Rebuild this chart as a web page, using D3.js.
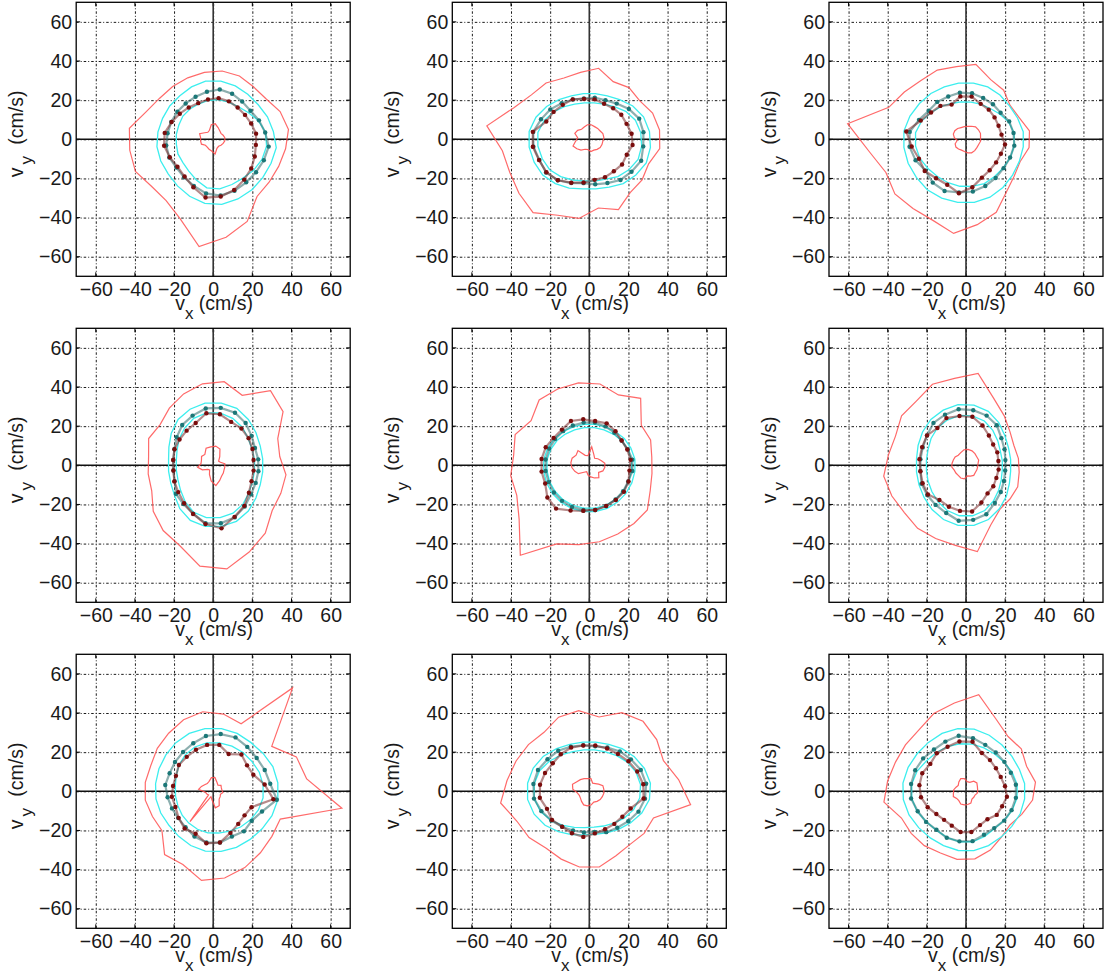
<!DOCTYPE html>
<html>
<head>
<meta charset="utf-8">
<script src="https://cdn.jsdelivr.net/npm/d3@7"></script>
<style>
body { margin: 0; background: #fff; }
svg { display: block; }
text { font-family: "Liberation Sans", Arial, Helvetica, sans-serif; fill: #1a1a1a; }
.tick text { font-size: 19.5px; }
.lab { font-size: 19.5px; white-space: pre; }
</style>
</head>
<body>
<div id="chartDiv"></div>
<script>
// each curve is sampled at 24 directions, 7.5 deg + k*15 deg, radii in cm/s
const ANGLES = d3.range(24).map(k => 7.5 + 15 * k);
const TICKS = [-60, -40, -20, 0, 20, 40, 60];

// panels in reading order (row by row)
const redOuter = [
  [38.8,37,34,33.8,35,35.2,34.5,34,34,34.5,37,43.2,43,43,39.6,39.5,44,55.3,50.5,45.4,36.8,36,36.2,37.3],
  [36.2,35,32.4,33.3,31.9,36.6,34.5,33.9,36.3,37.3,41.9,52.8,44.8,44,45.3,47.2,42,40.8,35.4,38.9,34.3,34,32.8,36.3],
  [32.7,29.3,28.4,31.6,33,38.6,37.5,38.3,37.8,39.7,42.7,61,49.7,44.3,45.8,44.5,44.7,48.5,44,40.4,33.9,31,29.9,32.5],
  [34.3,35.7,45,48.1,38.7,43.1,42,39.5,36.8,34.2,35.7,33.3,33.5,34,38.6,42,44.5,52,53.4,48,43.7,38,37.4,37.5],
  [32.2,33.9,33.5,43.1,38.9,41.9,42.5,42.2,42.1,37.5,41,39,40.5,40.1,45.2,57.9,43.5,40.9,39.4,38,37.5,37.4,33.7,32.3],
  [27,26.5,28.3,32,37,47.4,44.8,44.8,41.5,41.5,39,40,42.4,41,39.7,40.6,40.5,41.3,44.5,33,28.4,28.3,28.6,27.4],
  [48.2,46,37.7,66.6,37.3,39.8,41,39.6,37.4,36,34.5,35,35,33.6,33,40.8,40.5,45.9,44.7,42.2,39.6,37.8,37.1,66.3],
  [46,41,43.4,45.1,43.5,38.3,41.6,41,38,39.2,40.5,42.4,45.7,40,38.8,36.5,37.5,39,39,35.6,34.2,35.3,35.5,52.2],
  [35.8,33.5,35.6,35.3,40,49.8,45.5,43,39.5,39,39,40.4,42.3,35.7,35.3,35,34.1,35.1,34.8,32.5,29.6,28.3,30.8,34.3]
];

const cyanOuter = [
  [31,30,29,29,29.5,30,30,29,28,28,28,28.5,29,29,29,30,31.5,33,33.5,33,32.5,32,32,32.5],
  [31,30,28,25.5,24,23.5,23.5,24,25.5,27.5,29.5,31,31,30.5,30,28.5,27,25.5,25.5,26.5,28.5,30,31.5,31.5],
  [29.5,28.5,28,28.5,29,29,29,29,29.5,30,31,32,32,32,32,32.5,32.5,32.5,32.5,32,31,30,29.5,29.5],
  [25.5,26,27.5,29.5,31.5,32,32,31,29.5,27,24.5,23,23,23.5,25,28,30.5,31.5,31.5,31,29.5,27.5,26,25.5],
  [23.5,23,22.5,21.8,21.3,21.1,21.1,21.3,21.8,22.5,23,23.5,23.5,23.6,23.7,23.8,23.8,23.8,23.8,23.8,23.7,23.6,23.5,23.5],
  [23,23.5,25,27.5,29.8,31,31.3,30.5,29.5,28,26.5,25.5,25.5,26,27,28.5,30,31,31,30,28,26,24,23],
  [33.3,33,32,31.5,32,32.3,32.3,32,31.3,30.5,30,29.7,29.5,29,28.5,29,30,30.8,31,31,31,31.5,32.5,33.3],
  [31.5,30.5,29,27.5,26,25.3,25.3,26,27.5,29.5,31,31.8,31.8,30.5,28.5,26,24,22.5,22.2,23,24.5,26.5,29,31],
  [30.2,29.5,29.5,30,31,32,32.3,32,31.5,31.5,32,32.5,32.3,31.5,30.5,30,30,30.5,30.6,30,29.5,29.5,30,30.2]
];

const cyanInner = [
  [27,25,22.5,21,20.5,20.5,20,19.5,19.5,19.5,19,19,19,19.5,19.5,20.5,22.5,25,25.5,25,25,26,27,27.5],
  [26.5,25.5,23.5,21,19.5,18.8,18.8,19.5,21,23,25,26.5,26.5,26,25.5,24,22.5,21.5,21.5,22,24,25.5,27,27],
  [24.8,23.5,21.5,20,19.5,19.2,19.3,19.8,21,22.5,24.5,26,26,25.5,24.5,24,24,24.2,24.3,24.5,24,24,24.5,24.8],
  [21.3,21.5,22.5,24.5,26,27,27,26,24,22,20,19,19,19.5,21,23.5,26,27,27,26.5,25,23,21.8,21.3],
  [21.8,21.3,20.8,20.1,19.6,19.4,19.4,19.6,20.1,20.8,21.3,21.8,21.8,21.9,22,22.1,22.1,22.1,22.1,22.1,22,21.9,21.8,21.8],
  [18.7,19,20.5,22.5,24.5,25.5,25.7,25,24,22.5,21,20.4,20.4,21,22,23.5,25,26,26,25,23,21,19.5,18.7],
  [25.7,25.5,25,25,25,25,25,24.5,23.5,22,20.5,19.5,19.4,19.5,20,20.5,21,21.4,21.5,22,23,24,25,25.7],
  [26.4,25.8,24.5,23,21.8,21.3,21.3,22,23.5,25.5,27.5,28.4,28.4,27,24.5,22,20,18.7,18.5,19.2,20.5,22.5,24.5,26],
  [26.4,25.5,24.5,24,24,24.3,24.5,24.7,25,25.5,27,28,28,27,25.5,25,25.5,26,26,25,24,24.5,25.5,26.3]
];

const tealDots = [
  [26.8,25.3,24,24.3,25.2,25.7,24.5,23.5,23.1,23.1,23.2,23.5,24.2,24.3,23.7,24.5,25.8,27.9,29,28.5,27.7,27.6,28,28.6],
  [27.9,27.6,25.5,23,21.6,21.5,21.1,22,23.2,25.1,26.7,28.9,28.8,27.6,27.9,26.4,24.2,22.6,23.2,24.2,26.2,27.2,28.7,27.8],
  [24.5,23.9,22.3,22.6,22.9,23.7,24,23.7,24.1,24,26,29,29.1,27.9,26.2,27.9,28.6,27.4,26.9,25.8,24.9,24.2,24.4,24.9],
  [23.2,23.1,24.7,27.2,29.1,29.6,29.3,27.5,26,23.5,21.5,20.6,20.5,21.3,24,25,26.7,29.9,29.9,28.8,26.5,24.4,23.5,23.3],
  [22.2,21.3,20.8,21,21.5,22,22,22,22,22,22.2,22.5,22.5,22.5,22.8,22.9,23,23,23,22.5,22,21.8,21.5,22.2],
  [20.3,21.3,22.8,25.8,27.5,28.4,28.9,28,27.3,25.1,23.9,23.5,23.5,24.6,25,25.5,26.4,28.6,28.1,27.1,24.2,22.4,21,20.2],
  [29.4,28.5,28,28.6,29.8,29.5,28.5,26.6,25.3,24.6,24.1,24.7,23.5,22.8,22.5,23.2,25,26.4,26.4,25,25.8,24.8,27,32.8],
  [29.3,28.5,26.8,25.7,24.2,23.2,23.7,24.7,26.1,26.9,28.4,28.8,28.5,26.5,24.5,22.8,21.7,21.2,20.9,22.6,23.5,25.1,27.2,28.7],
  [25.7,24.8,24.7,25,25.7,27.4,28.6,27.5,26.9,27.6,28.1,28.3,28.3,26.7,25.7,24.8,25.7,25.8,25.7,24,23.7,24.6,25.2,25.7]
];

const maroonDots = [
  [22.1,21,20.5,20.5,21,21.2,20.5,20,20.5,21.5,23,25,25.3,24,23,24,26.5,30,29.5,28,26,24.5,23,22],
  [21.8,20.6,20.6,20,19.7,20.6,20.8,22.1,22.2,23,23.8,29.1,29.1,27.8,27.6,26.4,24,22.3,20.9,21,20.6,21.1,20.7,22.3],
  [18.3,18,18.4,19.1,19.6,22,22.1,19.2,21.5,22.5,25,30.8,28,26,26.6,25.1,25.1,27.8,24.7,21.2,19.9,19.4,19.3,20.1],
  [20.8,21.7,22.8,23.7,24,26.3,26.8,23.4,22.3,21.7,21.4,20.6,20.5,21.5,22.5,24.4,26.9,30.3,32.5,28.5,26.1,23,21.2,20.8],
  [21.3,21,20.8,22,23.2,22.8,23.7,24.5,23,23,24.1,24.6,24.6,24.4,27,27.9,25,23.5,23,22.5,22.3,22.3,21.7,20.7],
  [16.7,17.3,17.5,19.2,22,25,25.4,26.1,24,25.1,24.3,24,23.5,24,24.5,22.3,22.9,23.5,23.8,20.6,18.1,17.6,16.8,16.8],
  [26.5,22.2,21.8,23.7,20.6,23.9,23.9,23,22.2,22.1,20.6,20.7,21.3,20.9,22.3,24,23.5,26.8,26.4,23,21,20.2,21.2,31],
  [27.8,26.5,25.2,24,23.7,23.6,23.6,24.2,23.9,23.5,24.5,25.4,25.5,23.4,24,22.8,23.2,23.5,21.7,21,21,21.3,22.9,28],
  [20.1,19.2,19.3,20.1,21.2,25.5,25.7,24.6,24.5,23,24.2,24,23.2,21.2,19.1,18.4,19,21,21,18.7,18,19.8,20,21.1]
];

const redInner = [
  [6,5.5,5,5.5,6.5,8,7.5,5,4.5,5.5,7.5,6.5,6.5,6.5,5,5,5.5,6,7.5,5,4.5,5,5.5,6],
  [7.5,7.5,7,7,7,7.5,7.5,6.8,6.5,7.5,8,6,7,9,8,7,5.5,5.3,6.3,6,6.5,7,7,7],
  [7.5,8,8,8,7.2,6.7,6.5,6.5,7,7.2,7,6,4.5,6,6.5,6.3,6,6.3,7,7.5,7.3,7,7,7.5],
  [6,4,3.5,5.5,9,9.9,9.5,9.5,7,7.5,6.5,6.3,8,6,3.5,3,5,8,10.5,8.5,7,6.5,6,6],
  [8,6.5,5.5,4.5,6,9.5,5,5.5,9.5,8.5,9.5,9.5,9,8,7,4.5,3.5,5,6,7,8,6,7.5,8],
  [6.2,7,7,7.5,8,8.2,8,7,6.5,7,7,7.2,7.3,6.5,6.5,6.5,7,7,5.5,6,6.5,6,6,6],
  [4.5,4.5,5,4,5,7,7,5.5,5,5.5,6.5,7.5,4,3.5,3,19.5,3,4.5,8.5,8,5,4.5,4,5],
  [7.5,7.5,6,5,4.5,6.5,6.5,7,7.5,8,9.3,8.5,6.2,5.5,5.7,6.5,7.5,7.5,7,6,6.5,7,7.2,7.5],
  [6,6.3,7,6.5,5,5,6.5,7,6,5,5.5,6.3,6.5,7,6,6,7,7,6.8,6.5,5,5,5,6]
];

const size = 274;
const colX = [76.2, 452.3, 829];
const rowY = [2.3, 328.3, 654.3];

const svgObj = d3.select('#chartDiv').append('svg')
    .attr('width', 1106)
    .attr('height', 976);

const x = d3.scaleLinear().domain([-70, 70]).range([0, size]);
const y = d3.scaleLinear().domain([-70, 70]).range([size, 0]);

let toPoints = radii => radii.map((r, i) => {
    const a = ANGLES[i] * Math.PI / 180;
    return [r * Math.cos(a), r * Math.sin(a)];
});
const lineGen = d3.line()
    .x(d => x(d[0]))
    .y(d => y(d[1]))
    .curve(d3.curveLinearClosed);

function drawPanel(i){
    const g = svgObj.append('g')
        .attr('transform', `translate(${colX[i % 3]},${rowY[Math.floor(i / 3)]})`);

    // dotted grid
    const gx = g.append('g')
        .attr('transform', `translate(0,${size})`)
        .call(d3.axisBottom(x).tickValues(TICKS).tickSize(-size).tickFormat(''));
    const gy = g.append('g')
        .call(d3.axisLeft(y).tickValues(TICKS).tickSize(-size).tickFormat(''));
    [gx, gy].forEach(a => {
        a.select('.domain').remove();
        a.selectAll('line').attr('stroke', '#000').attr('stroke-width', 0.9)
            .attr('stroke-dasharray', '2.5,2,1,2');
    });

    // tick labels
    const lx = g.append('g')
        .attr('transform', `translate(0,${size})`)
        .call(d3.axisBottom(x).tickValues(TICKS).tickSize(0).tickPadding(6));
    const ly = g.append('g')
        .call(d3.axisLeft(y).tickValues(TICKS).tickSize(0).tickPadding(4));
    [lx, ly].forEach(a => a.select('.domain').remove());

    // small inward ticks on all sides
    TICKS.forEach(t => {
        g.append('line').attr('x1', x(t)).attr('x2', x(t)).attr('y1', size).attr('y2', size - 4).attr('stroke', '#000');
        g.append('line').attr('x1', x(t)).attr('x2', x(t)).attr('y1', 0).attr('y2', 4).attr('stroke', '#000');
        g.append('line').attr('y1', y(t)).attr('y2', y(t)).attr('x1', 0).attr('x2', 4).attr('stroke', '#000');
        g.append('line').attr('y1', y(t)).attr('y2', y(t)).attr('x1', size).attr('x2', size - 4).attr('stroke', '#000');
    });

    // zero axes
    g.append('line').attr('x1', 0).attr('x2', size).attr('y1', y(0)).attr('y2', y(0))
        .attr('stroke', '#111').attr('stroke-width', 1.6);
    g.append('line').attr('x1', x(0)).attr('x2', x(0)).attr('y1', 0).attr('y2', size)
        .attr('stroke', '#333').attr('stroke-width', 1.6);

    // curves
    g.append('path').attr('d', lineGen(toPoints(redOuter[i])))
        .attr('fill', 'none').attr('stroke', '#ff5050').attr('stroke-opacity', 0.85).attr('stroke-width', 1.2);
    [cyanOuter, cyanInner].forEach(c => {
        g.append('path').attr('d', lineGen(toPoints(c[i])))
            .attr('fill', 'none').attr('stroke', '#3ceeee').attr('stroke-width', 1.3);
    });

    const series = [
        { r: tealDots[i], line: '#2f6d6d', dot: '#1b7777' },
        { r: maroonDots[i], line: '#7a2a2a', dot: '#7a0c0c' }
    ];
    series.forEach(s => {
        const pts = toPoints(s.r);
        g.append('path').attr('d', lineGen(pts))
            .attr('fill', 'none').attr('stroke', s.line).attr('stroke-opacity', 0.55).attr('stroke-width', 2.2);
        g.selectAll(null).data(pts).enter().append('circle')
            .attr('cx', d => x(d[0])).attr('cy', d => y(d[1])).attr('r', 2.2)
            .attr('fill', s.dot);
    });

    g.append('path').attr('d', lineGen(toPoints(redInner[i])))
        .attr('fill', 'none').attr('stroke', '#ff5050').attr('stroke-opacity', 0.9).attr('stroke-width', 1.2);

    // frame
    g.append('rect').attr('width', size).attr('height', size)
        .attr('fill', 'none').attr('stroke', '#000').attr('stroke-width', 1.3);

    // axis labels
    const xl = g.append('text').attr('class', 'lab')
        .attr('x', size / 2 - 38).attr('y', size + 34);
    xl.append('tspan').text('v');
    xl.append('tspan').attr('dy', 9).attr('font-size', 17).text('x');
    xl.append('tspan').attr('dy', -9).text(' (cm/s)');

    const yl = g.append('text').attr('class', 'lab')
        .attr('transform', `translate(-53,${size / 2 + 38}) rotate(-90)`);
    yl.append('tspan').text('v');
    yl.append('tspan').attr('dy', 9).attr('dx', 3).attr('font-size', 17).text('y');
    yl.append('tspan').attr('dy', -9).attr('dx', 6).text(' (cm/s)');
}

d3.range(9).forEach(drawPanel);
</script>
</body>
</html>
